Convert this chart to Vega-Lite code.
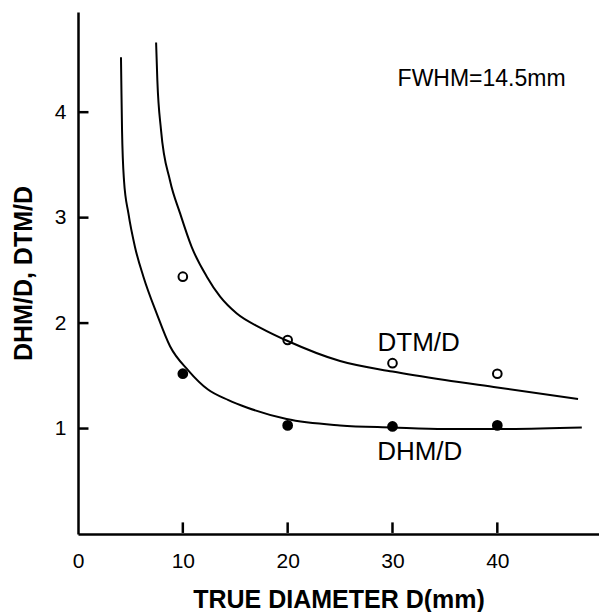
{
  "$schema": "https://vega.github.io/schema/vega-lite/v6.json",
  "autosize": "none",
  "width": 521,
  "height": 522,
  "padding": {"left": 78, "top": 12, "right": 0, "bottom": 78},
  "background": "white",
  "config": {
    "view": {"stroke": null},
    "axis": {"grid": false, "domainColor": "black", "tickColor": "black", "labelColor": "black", "titleColor": "black", "domainWidth": 2.5, "labelFont": "Liberation Sans", "labelFontSize": 21, "titleFont": "Liberation Sans", "titleFontWeight": "bold", "titleFontSize": 25}
  },
  "datasets": {
    "curves": [
      {"series": "DTM/D", "x": 7.45, "y": 4.66},
      {"series": "DTM/D", "x": 7.57, "y": 4.30},
      {"series": "DTM/D", "x": 7.92, "y": 3.83},
      {"series": "DTM/D", "x": 8.78, "y": 3.35},
      {"series": "DTM/D", "x": 9.74, "y": 3.04},
      {"series": "DTM/D", "x": 10.85, "y": 2.72},
      {"series": "DTM/D", "x": 12.29, "y": 2.44},
      {"series": "DTM/D", "x": 13.56, "y": 2.25},
      {"series": "DTM/D", "x": 15.15, "y": 2.09},
      {"series": "DTM/D", "x": 17.5, "y": 1.95},
      {"series": "DTM/D", "x": 20.0, "y": 1.83},
      {"series": "DTM/D", "x": 25.0, "y": 1.64},
      {"series": "DTM/D", "x": 30.0, "y": 1.54},
      {"series": "DTM/D", "x": 35.0, "y": 1.46},
      {"series": "DTM/D", "x": 40.0, "y": 1.39},
      {"series": "DTM/D", "x": 47.7, "y": 1.28},
      {"series": "DHM/D", "x": 4.10, "y": 4.52},
      {"series": "DHM/D", "x": 4.13, "y": 4.30},
      {"series": "DHM/D", "x": 4.20, "y": 3.83},
      {"series": "DHM/D", "x": 4.39, "y": 3.35},
      {"series": "DHM/D", "x": 4.81, "y": 3.04},
      {"series": "DHM/D", "x": 5.44, "y": 2.72},
      {"series": "DHM/D", "x": 6.24, "y": 2.44},
      {"series": "DHM/D", "x": 7.51, "y": 2.09},
      {"series": "DHM/D", "x": 8.78, "y": 1.78},
      {"series": "DHM/D", "x": 10.53, "y": 1.55},
      {"series": "DHM/D", "x": 12.4, "y": 1.37},
      {"series": "DHM/D", "x": 14.35, "y": 1.27},
      {"series": "DHM/D", "x": 16.1, "y": 1.20},
      {"series": "DHM/D", "x": 19.9, "y": 1.09},
      {"series": "DHM/D", "x": 25.0, "y": 1.03},
      {"series": "DHM/D", "x": 30.0, "y": 1.01},
      {"series": "DHM/D", "x": 35.0, "y": 0.995},
      {"series": "DHM/D", "x": 40.0, "y": 0.995},
      {"series": "DHM/D", "x": 48.06, "y": 1.01}
    ],
    "points": [
      {"series": "DTM/D", "x": 10, "y": 2.44},
      {"series": "DTM/D", "x": 20, "y": 1.84},
      {"series": "DTM/D", "x": 30, "y": 1.62},
      {"series": "DTM/D", "x": 40, "y": 1.52},
      {"series": "DHM/D", "x": 10, "y": 1.52},
      {"series": "DHM/D", "x": 20, "y": 1.03},
      {"series": "DHM/D", "x": 30, "y": 1.02},
      {"series": "DHM/D", "x": 40, "y": 1.03}
    ],
    "labels": [
      {"label": "DTM/D", "x": 32.5, "y": 1.81, "size": 26},
      {"label": "DHM/D", "x": 32.6, "y": 0.78, "size": 26},
      {"label": "FWHM=14.5mm", "x": 38.5, "y": 4.31, "size": 23}
    ],
    "xticks": [{"x": 10}, {"x": 20}, {"x": 30}, {"x": 40}],
    "yticks": [{"y": 1}, {"y": 2}, {"y": 3}, {"y": 4}]
  },
  "layer": [
    {
      "data": {"name": "curves"},
      "mark": {"type": "line", "interpolate": "monotone", "color": "black", "strokeWidth": 2, "clip": true},
      "encoding": {
        "x": {"field": "x", "type": "quantitative", "scale": {"domain": [0, 49.7], "nice": false, "zero": false},
          "axis": {"values": [0, 10, 20, 30, 40], "format": "d", "ticks": false, "labelPadding": 16, "labelOverlap": false, "labelFlush": false, "title": "TRUE DIAMETER D(mm)", "titlePadding": 16,
            "encode": {"labels": {"update": {"dx": {"signal": "datum.value === 0 ? -13 : 0"}}}}}},
        "y": {"field": "y", "type": "quantitative", "scale": {"domain": [0, 4.95], "nice": false, "zero": false},
          "axis": {"values": [1, 2, 3, 4], "format": "d", "ticks": false, "labelPadding": 12, "labelOverlap": false, "labelFlush": false, "title": "DHM/D, DTM/D", "titlePadding": 18}},
        "detail": {"field": "series"}
      }
    },
    {
      "data": {"name": "xticks"},
      "mark": {"type": "rule", "color": "black", "strokeWidth": 2.5},
      "encoding": {
        "x": {"field": "x", "type": "quantitative"},
        "y": {"datum": 0.01},
        "y2": {"datum": 0.11}
      }
    },
    {
      "data": {"name": "yticks"},
      "mark": {"type": "rule", "color": "black", "strokeWidth": 2.5},
      "encoding": {
        "y": {"field": "y", "type": "quantitative"},
        "x": {"datum": 0.05},
        "x2": {"datum": 1.0}
      }
    },
    {
      "data": {"name": "points"},
      "transform": [{"filter": "datum.series === 'DTM/D'"}],
      "mark": {"type": "point", "shape": "circle", "filled": false, "color": "black", "strokeWidth": 2, "size": 75, "opacity": 1},
      "encoding": {
        "x": {"field": "x", "type": "quantitative"},
        "y": {"field": "y", "type": "quantitative"}
      }
    },
    {
      "data": {"name": "points"},
      "transform": [{"filter": "datum.series === 'DHM/D'"}],
      "mark": {"type": "point", "shape": "circle", "filled": true, "color": "black", "size": 115, "opacity": 1},
      "encoding": {
        "x": {"field": "x", "type": "quantitative"},
        "y": {"field": "y", "type": "quantitative"}
      }
    },
    {
      "data": {"name": "labels"},
      "mark": {"type": "text", "font": "Liberation Sans", "color": "black", "baseline": "middle", "align": "center"},
      "encoding": {
        "x": {"field": "x", "type": "quantitative"},
        "y": {"field": "y", "type": "quantitative"},
        "text": {"field": "label"},
        "size": {"field": "size", "type": "quantitative", "scale": null}
      }
    }
  ]
}
